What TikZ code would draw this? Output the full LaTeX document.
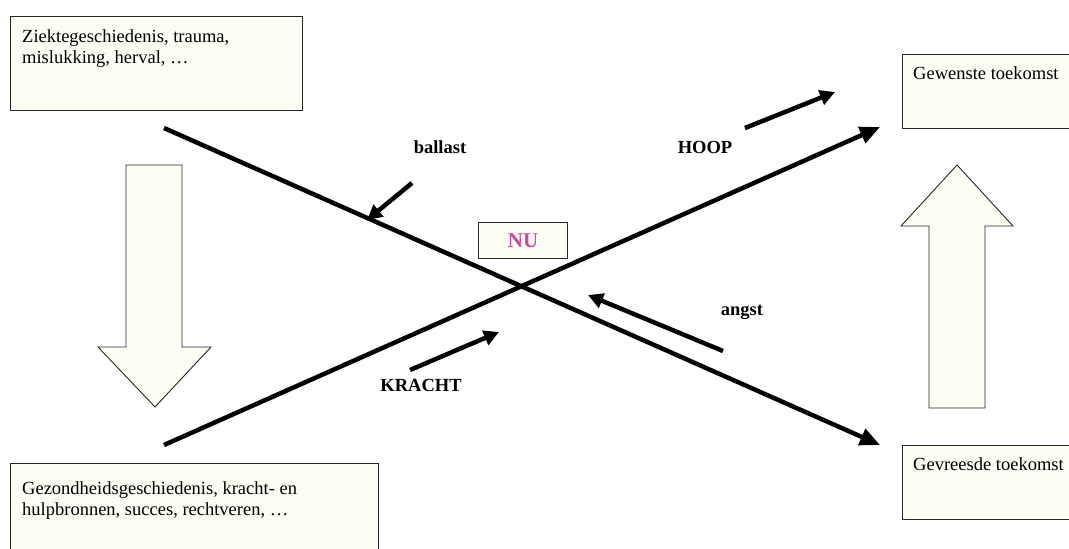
\documentclass[tikz,border=0pt]{standalone}
\usepackage{fontspec}
\setmainfont{Liberation Serif}
\usetikzlibrary{arrows.meta}
\definecolor{cream}{RGB}{253,253,244}
\definecolor{nupink}{RGB}{212,70,158}
\tikzset{
  panel/.style={draw=black!85, line width=1pt, fill=cream, inner sep=0pt, anchor=north west},
  paneltext/.style={anchor=north west, align=left, inner sep=0pt, font=\fontsize{18.5}{21.5}\selectfont},
  tag/.style={font=\fontsize{18.5}{21.5}\selectfont\bfseries, inner sep=0pt},
  timeline/.style={line width=4.5pt, -{Triangle[length=20pt,width=17pt]}},
  force/.style={line width=4.5pt, -{Triangle[length=15pt,width=15pt]}},
  bigarrow/.style={draw=black!85, line width=0.9pt, fill=cream, line join=miter}
}
\begin{document}
\begin{tikzpicture}[x=1pt,y=-1pt]
\useasboundingbox (0,0) rectangle (1069,549);
\clip (0,0) rectangle (1069,549);

% situation boxes
\node[panel, minimum width=292pt, minimum height=94pt] (past) at (10,16) {};
\node[paneltext] (pasttext) at (22,29) {Ziektegeschiedenis, trauma,\\mislukking, herval, \dots};

\node[panel, minimum width=368pt, minimum height=100pt] (res) at (10,463) {};
\node[paneltext] (restext) at (22,481) {Gezondheidsgeschiedenis, kracht- en\\hulpbronnen, succes, rechtveren, \dots};

\node[panel, minimum width=180pt, minimum height=74pt] (wish) at (902,54) {};
\node[paneltext] (wishtext) at (913,66) {Gewenste toekomst};

\node[panel, minimum width=180pt, minimum height=74pt] (fear) at (902,445) {};
\node[paneltext] (feartext) at (913,457) {Gevreesde toekomst};

% the present
\node[panel, minimum width=89pt, minimum height=36pt] (nu) at (478,222) {};
\node[font=\fontsize{21}{24}\selectfont\bfseries, text=nupink, inner sep=0pt] (nutext) at (nu.center) {NU};

% broad arrows
\draw[bigarrow] (126,165) -- (182,165) -- (182,347) -- (211,347) -- (155,407) -- (98,347) -- (126,347) -- cycle;
\draw[bigarrow] (957,165) -- (1013,226) -- (985,226) -- (985,408) -- (929,408) -- (929,226) -- (901,226) -- cycle;

% crossing lines
\coordinate (a1) at (164,128);
\coordinate (a2) at (880,445);
\coordinate (b1) at (164,445);
\coordinate (b2) at (880,127);
\draw[timeline] (a1) -- (a2);
\draw[timeline] (b1) -- (b2);

% forces
\coordinate (ballast1) at (412,183);
\coordinate (ballast2) at (367,220);
\coordinate (hoop1) at (745,128);
\coordinate (hoop2) at (835,92);
\coordinate (kracht1) at (410,370);
\coordinate (kracht2) at (499,332);
\coordinate (angst1) at (723,351);
\coordinate (angst2) at (588,295);
\draw[force] (ballast1) -- (ballast2);
\draw[force] (hoop1) -- (hoop2);
\draw[force] (kracht1) -- (kracht2);
\draw[force] (angst1) -- (angst2);

\node[tag] (ballast) at (440,147) {ballast};
\node[tag] (hoop) at (705,147) {HOOP};
\node[tag] (kracht) at (421,385) {KRACHT};
\node[tag] (angst) at (742,312) {angst};
\end{tikzpicture}
\end{document}
